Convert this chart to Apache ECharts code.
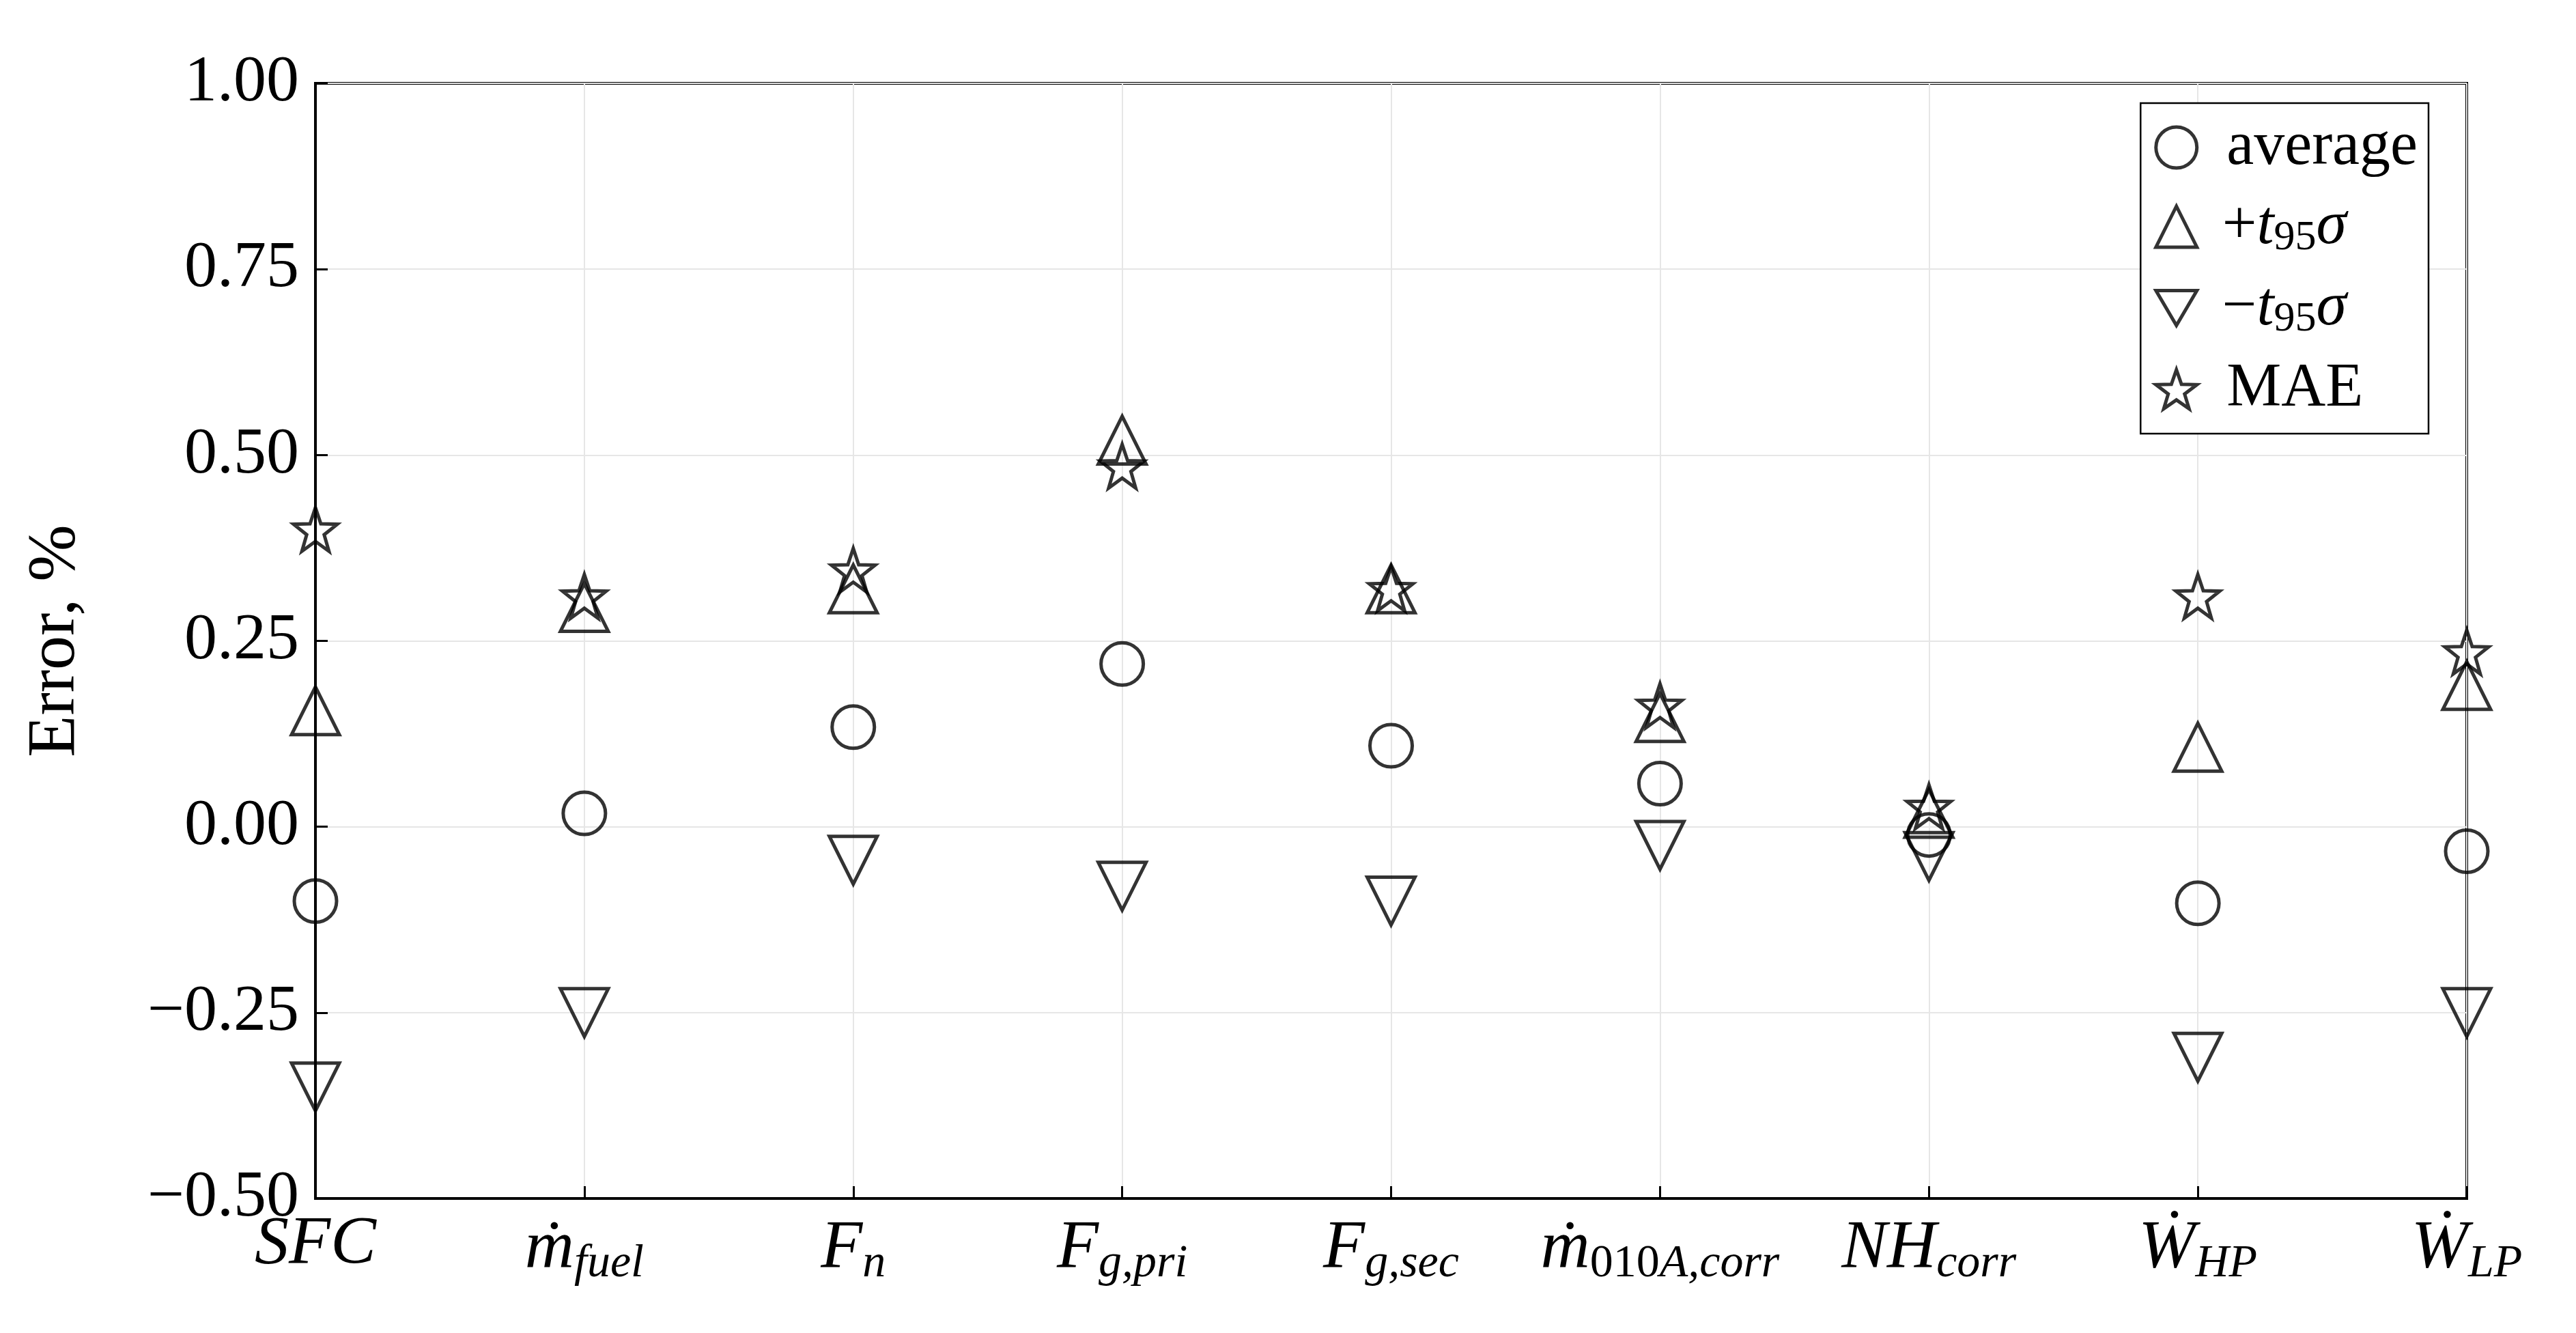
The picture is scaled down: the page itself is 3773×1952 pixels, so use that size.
<!DOCTYPE html>
<html lang="en">
<head>
    <meta charset="UTF-8">
    <script src="https://cdn.jsdelivr.net/npm/echarts@6/dist/echarts.min.js"></script>
    <title>Error chart</title>
    <style>
        html, body { margin: 0; background: #fff; }
        #main { width: 3773px; height: 1952px; }
    </style>
</head>
<body>
    <div id="main"></div>
    <script>
        var categories = ['SFC', 'mfuel', 'Fn', 'Fgpri', 'Fgsec', 'm010A', 'NH', 'WHP', 'WLP'];
        var average = [-0.10, 0.018, 0.134, 0.219, 0.109, 0.058, -0.011, -0.103, -0.033];
        var plusT = [0.156, 0.295, 0.32, 0.52, 0.32, 0.147, 0.018, 0.107, 0.19];
        var minusT = [-0.35, -0.25, -0.045, -0.08, -0.10, -0.025, -0.04, -0.31, -0.25];
        var mae = [0.40, 0.31, 0.345, 0.485, 0.32, 0.163, 0.027, 0.31, 0.235];
        var yTicks = ['-0.50', '-0.25', '0.00', '0.25', '0.50', '0.75', '1.00'];

        // rich-text category labels (math style)
        var catLabels = [
            '{i|SFC}',
            '{i|ṁ}{s|fuel}',
            '{i|F}{s|n}',
            '{i|F}{s|g,pri}',
            '{i|F}{s|g,sec}',
            '{i|ṁ}{sr|010}{s|A,corr}',
            '{i|NH}{s|corr}',
            '{i|Ẇ}{s|HP}',
            '{i|Ẇ}{s|LP}'
        ];
        var font = 'Liberation Serif';
        var star = 'path://M0,-10 L2.35,-3.24 L9.51,-3.09 L3.8,1.24 L5.88,8.09 L0,4 L-5.88,8.09 L-3.8,1.24 L-9.51,-3.09 L-2.35,-3.24 Z';
        var triDown = 'path://M-10,-8 L10,-8 L0,9 Z';

        function pts(vals) { return vals.map(function (v, i) { return [i + 1, v]; }); }
        function mk(name, vals, symbol, size, rot) {
            return {
                name: name, type: 'scatter', data: pts(vals), symbol: symbol,
                symbolSize: size, symbolRotate: rot || 0,
                itemStyle: { color: 'rgba(255,255,255,0)', borderColor: '#000', borderWidth: 5 }
            };
        }

        var chart = echarts.init(document.getElementById('main'));
        chart.setOption({
            backgroundColor: '#fff',
            animation: false,
            grid: { left: 462, right: 160, top: 122, bottom: 197, show: true, borderColor: '#000', borderWidth: 4 },
            xAxis: {
                type: 'value', min: 1, max: 9, interval: 1,
                axisLine: { onZero: false, lineStyle: { color: '#000', width: 4 } },
                axisTick: { inside: true, length: 18, lineStyle: { color: '#000', width: 3 } },
                splitLine: { show: true, lineStyle: { color: '#e6e6e6', width: 2 } },
                axisLabel: {
                    margin: 18, color: '#000',
                    formatter: function (v) { return catLabels[v - 1] || ''; },
                    rich: {
                        i: { fontFamily: font, fontStyle: 'italic', fontSize: 100, color: '#000' },
                        s: { fontFamily: font, fontStyle: 'italic', fontSize: 68, color: '#000', verticalAlign: 'bottom', padding: [44, 0, 0, 0] },
                        sr: { fontFamily: font, fontSize: 68, color: '#000', verticalAlign: 'bottom', padding: [44, 0, 0, 0] }
                    }
                }
            },
            yAxis: {
                type: 'value', min: -0.5, max: 1, interval: 0.25,
                name: 'Error, %', nameLocation: 'middle', nameGap: 330, nameRotate: 90,
                nameTextStyle: { fontFamily: font, fontSize: 100, color: '#000' },
                axisLine: { show: true, lineStyle: { color: '#000', width: 4 } },
                axisTick: { show: true, inside: true, length: 18, lineStyle: { color: '#000', width: 3 } },
                splitLine: { show: true, lineStyle: { color: '#e6e6e6', width: 2 } },
                axisLabel: {
                    margin: 24, fontFamily: font, fontSize: 96, color: '#000',
                    formatter: function (v) {
                        var t = yTicks[Math.round((v + 0.5) / 0.25)];
                        return t ? t.replace('-', '−') : '';
                    }
                }
            },
            legend: {
                orient: 'vertical', right: 216, top: 151, itemGap: 26,
                padding: [20, 16, 20, 20], borderColor: '#000', borderWidth: 2.5, backgroundColor: '#fff',
                itemWidth: 60, itemHeight: 60,
                itemStyle: { color: 'rgba(255,255,255,0)', borderColor: '#000', borderWidth: 5 },
                textStyle: {
                    fontFamily: font, fontSize: 90, color: '#000', padding: [0, 0, 0, 16],
                    rich: {
                        n: { fontFamily: font, fontSize: 90, color: '#000', padding: [0, 0, 0, 16] },
                        it: { fontFamily: font, fontStyle: 'italic', fontSize: 90, color: '#000' },
                        sb: { fontFamily: font, fontSize: 62, color: '#000', verticalAlign: 'bottom', padding: [34, 0, 0, 0] }
                    }
                },
                formatter: function (n) {
                    if (n === 'plus') return '{n|+}{it|t}{sb|95}{it|σ}';
                    if (n === 'minus') return '{n|−}{it|t}{sb|95}{it|σ}';
                    return ' ' + n;
                },
                data: [
                    { name: 'average', icon: 'circle' },
                    { name: 'plus', icon: 'triangle' },
                    { name: 'minus', icon: triDown },
                    { name: 'MAE', icon: star }
                ]
            },
            series: [
                mk('average', average, 'circle', 62),
                mk('plus', plusT, 'triangle', 70),
                mk('minus', minusT, 'triangle', 70, 180),
                mk('MAE', mae, star, 64)
            ]
        });
    </script>
</body>
</html>
